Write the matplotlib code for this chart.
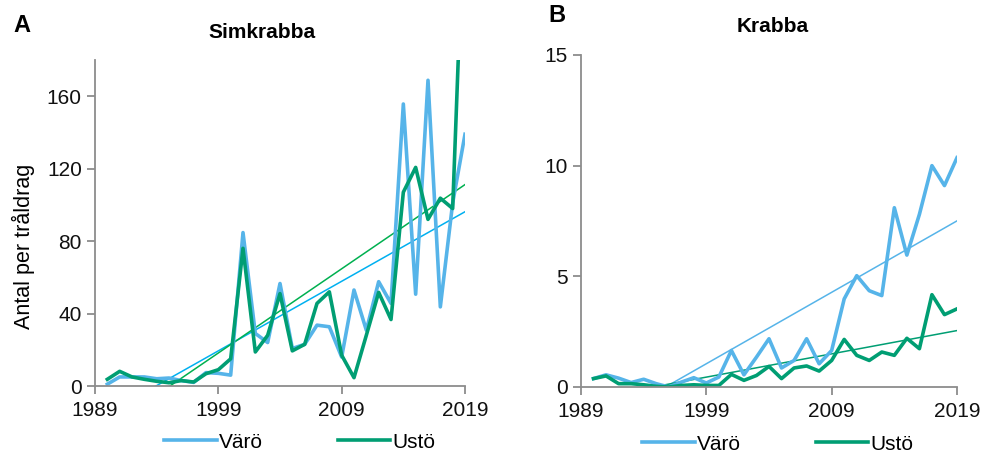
import matplotlib.pyplot as plt
import numpy as np

plt.rcParams['font.family'] = ['Liberation Sans', 'DejaVu Sans']

years = np.arange(1990, 2020)

# Simkrabba (panel A)
simk_varo = [1, 5, 5, 5, 4, 4.4, 3, 2, 7.4, 7, 6, 84.7, 29, 24, 56.6,
             20.7, 23, 33.6, 32.7, 16, 53, 30.8, 57.6, 45.6, 155.7, 50.7,
             168.8, 43.7, 101, 139]
simk_usto = [3.7, 8.1, 5, 3.7, 2.6, 1.8, 3, 2.2, 6.8, 9, 15, 76, 18.8, 28,
             51, 19.4, 23, 45.6, 52, 17, 4.6, 28, 51.7, 36.7, 107, 120.7,
             92, 103.7, 98, 280]

# Krabba (panel B)
krab_varo = [0.38, 0.55, 0.4, 0.2, 0.35, 0.15, 0.0, 0.22, 0.42, 0.18, 0.45,
             1.65, 0.55, 1.35, 2.18, 0.86, 1.2, 2.18, 1.05, 1.65, 3.98, 5.03,
             4.35, 4.13, 8.1, 5.96, 7.8, 10.0, 9.1, 10.36]
krab_usto = [0.38, 0.5, 0.15, 0.15, 0.1, 0.03, 0.0, 0.07, 0.1, 0.07, 0.07,
             0.57, 0.3, 0.52, 0.93, 0.38, 0.86, 0.95, 0.72, 1.2, 2.15, 1.43,
             1.2, 1.58, 1.43, 2.2, 1.73, 4.17, 3.27, 3.53]

blue = '#56b4e9'
green = '#009e73'
grey = '#8c8c8c'

W, H = 984, 455
fig = plt.figure(figsize=(W / 100, H / 100), dpi=100)
axA = fig.add_axes([95 / W, 1 - 386 / H, 370 / W, 326 / H])
axB = fig.add_axes([581 / W, 1 - 387 / H, 376 / W, 332 / H])


def style(ax, ylim, yticks):
    ax.set_xlim(1989, 2019)
    ax.set_ylim(*ylim)
    ax.set_xticks([1989, 1999, 2009, 2019])
    ax.set_yticks(yticks)
    for s in ['top', 'right']:
        ax.spines[s].set_visible(False)
    for s in ['left', 'bottom']:
        ax.spines[s].set_color(grey)
        ax.spines[s].set_linewidth(1.3)
    ax.tick_params(direction='out', length=5.5, width=1.3, color=grey,
                   labelsize=15, labelcolor='#111111')
    ax.tick_params(axis='x', pad=5)
    ax.tick_params(axis='y', pad=4)


def trend(x, y):
    k, m = np.polyfit(x, y, 1)
    return k * x + m


def legend(ax, xc):
    ax.legend(loc='center', bbox_to_anchor=(xc, -0.172), ncol=2,
              frameon=False, fontsize=15, handlelength=2.5,
              columnspacing=3.6, handletextpad=0.12, borderaxespad=0)


# panel A
axA.plot(years, trend(years, simk_varo), color='#00b0f0', lw=1.1)
axA.plot(years, trend(years, simk_usto), color='#00b050', lw=1.1)
axA.plot(years, simk_varo, color=blue, lw=2.6, label='Värö')
axA.plot(years, simk_usto, color=green, lw=2.6, label='Ustö')
style(axA, (0, 180), [0, 40, 80, 120, 160])
legend(axA, (300 - 95) / 370)

# panel B
axB.plot(years, trend(years, krab_varo), color=blue, lw=1.1)
axB.plot(years, trend(years, krab_usto), color=green, lw=1.1)
axB.plot(years, krab_varo, color=blue, lw=2.6, label='Värö')
axB.plot(years, krab_usto, color=green, lw=2.6, label='Ustö')
style(axB, (0, 15), [0, 5, 10, 15])
legend(axB, (778 - 581) / 376)

fig.text(23 / W, 1 - 246 / H, 'Antal per tråldrag', fontsize=15.5,
         rotation=90, ha='center', va='center')
fig.text(262 / W, 1 - 33 / H, 'Simkrabba', fontsize=15,
         fontweight='bold', ha='center', va='center')
fig.text(773 / W, 1 - 27 / H, 'Krabba', fontsize=15,
         fontweight='bold', ha='center', va='center')
fig.text(22 / W, 1 - 26 / H, 'A', fontsize=17, fontweight='bold',
         ha='center', va='center')
fig.text(557 / W, 1 - 15 / H, 'B', fontsize=17, fontweight='bold',
         ha='center', va='center')

fig.savefig('out.png', dpi=100)
